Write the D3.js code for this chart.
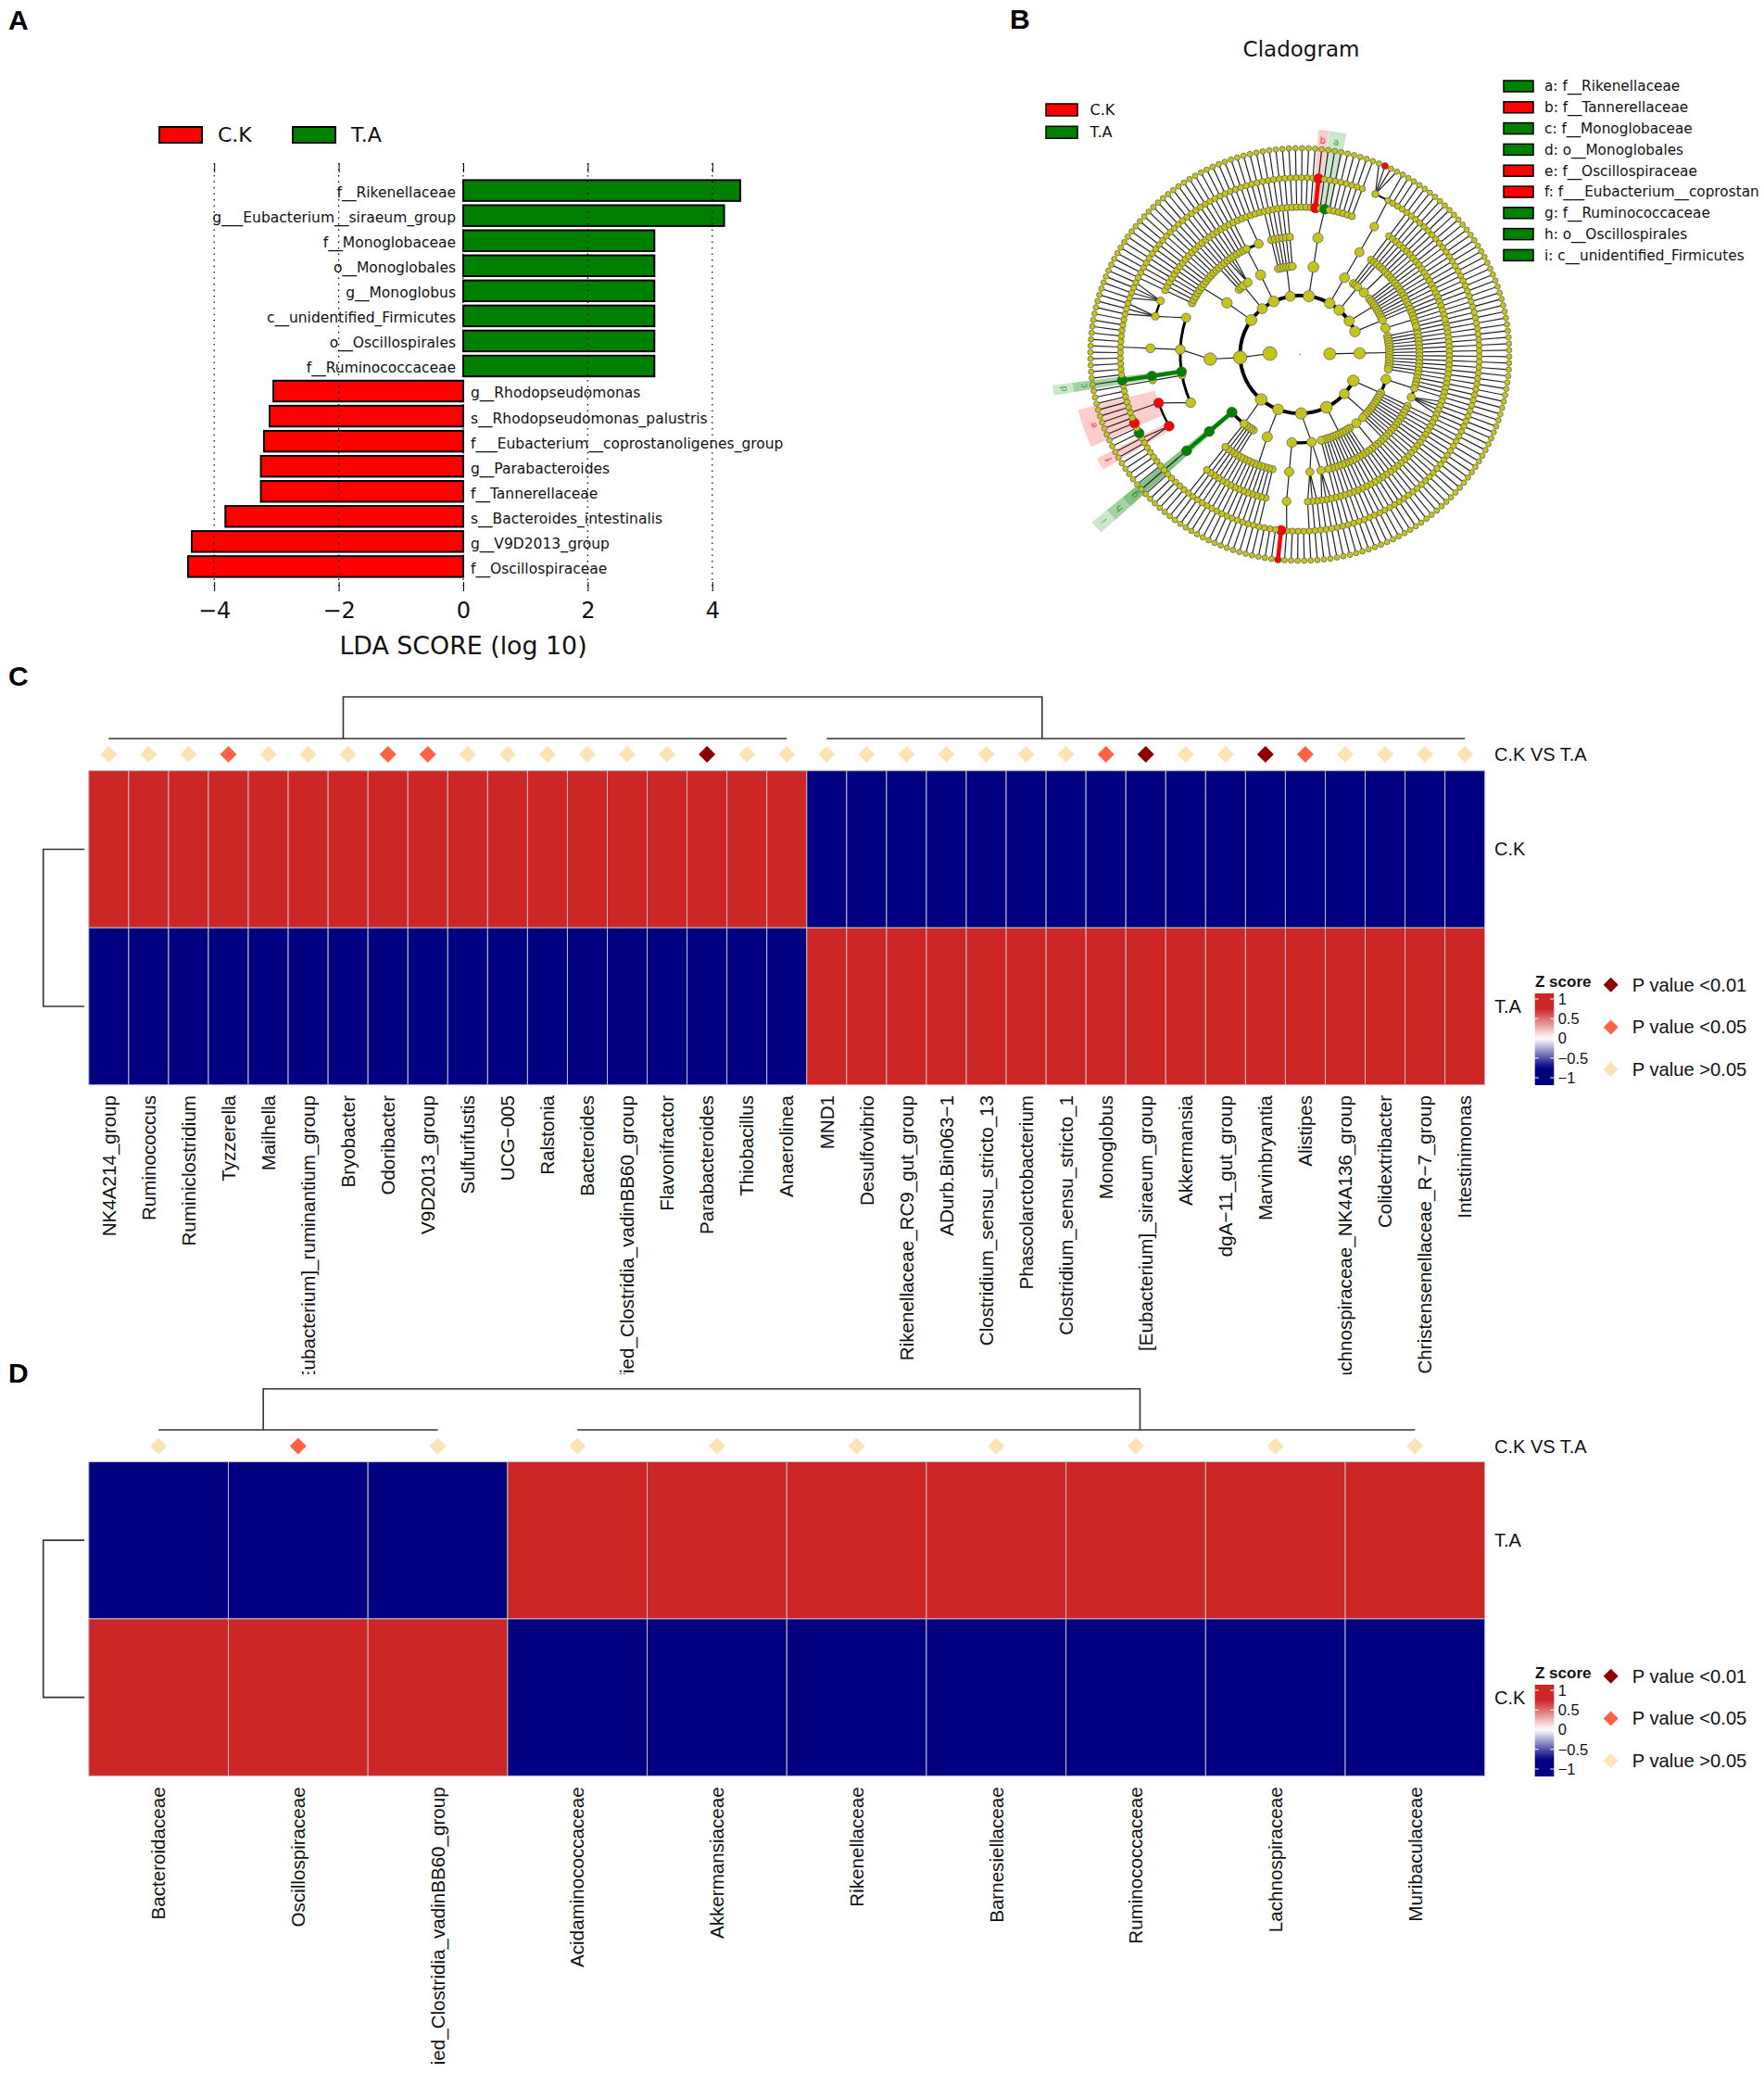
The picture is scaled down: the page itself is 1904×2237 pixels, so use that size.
<!DOCTYPE html>
<html lang="en">
<head>
<meta charset="UTF-8">
<title>LEfSe and heatmaps</title>
<script src="https://d3js.org/d3.v7.min.js"></script>
<style>
  body { margin: 0; background: #fff; }
  .a text, .a .tick text { font-family: "DejaVu Sans", sans-serif; }
  .h text { font-family: "Liberation Sans", Arial, sans-serif; }
  .letter { font-family: "Liberation Sans", Arial, sans-serif; font-weight: bold; font-size: 30px; }
</style>
</head>
<body>
<svg id="chart" width="1904" height="2237"></svg>
<script>
// ---- panel A data
const ldaLabels = ["f__Rikenellaceae", "g___Eubacterium__siraeum_group", "f__Monoglobaceae", "o__Monoglobales",
  "g__Monoglobus", "c__unidentified_Firmicutes", "o__Oscillospirales", "f__Ruminococcaceae",
  "g__Rhodopseudomonas", "s__Rhodopseudomonas_palustris", "f___Eubacterium__coprostanoligenes_group",
  "g__Parabacteroides", "f__Tannerellaceae", "s__Bacteroides_intestinalis", "g__V9D2013_group", "f__Oscillospiraceae"];
const ldaValues = [4.45, 4.19, 3.07, 3.07, 3.07, 3.07, 3.07, 3.07,
  -3.05, -3.11, -3.2, -3.25, -3.25, -3.82, -4.36, -4.42];
const ldaTicks = [-4, -2, 0, 2, 4];
const groups = ["C.K", "T.A"];
const groupColors = ["#ff0000", "#008000"];

// ---- panel B data: taxonomy tree, a number n stands for n unbranched lineages
const fam = (n, k) => ({ n, k });
const archaea = [[13]];
const phyla = [
  [[4, [4]], 7],
  [5],
  [[5], 12],
  [[[3], [3]], [[[4, fam("g__Rhodopseudomonas", [fam("s__Rhodopseudomonas_palustris", [])]), 3]]]],
  [[10]],
  [5, fam("c__unidentified_Firmicutes", [fam("o__Oscillospirales", [fam("f__Ruminococcaceae", [11])])])],
  [[
    [fam("f___Eubacterium__coprostanoligenes_group", [2]),
     fam("f__Oscillospiraceae", [fam("g___Eubacterium__siraeum_group", [1]), 1, fam("g__V9D2013_group", [1]), 6])],
    1,
    fam("o__Monoglobales", [fam("f__Monoglobaceae", [fam("g__Monoglobus", [1])])]),
    [[11]],
    [[3], [4]]
  ]],
  [[12]],
  [3, [3]],
  [[4, [6]]],
  [6],
  [[[5, fam("f__Tannerellaceae", [fam("g__Parabacteroides", [1])]), 1, fam("f__Rikenellaceae", [1]), 6]]],
  [[[[fam("g__Bacteroides", [1, fam("s__Bacteroides_intestinalis", []), 2]), 4]]]],
  [3, [5]],
  [6],
  [4, [5]]
];
const cladeLegend = ["f__Rikenellaceae", "f__Tannerellaceae", "f__Monoglobaceae", "o__Monoglobales", "f__Oscillospiraceae",
  "f___Eubacterium__coprostanoligenes_group", "f__Ruminococcaceae", "o__Oscillospirales", "c__unidentified_Firmicutes"];
const cladeLetters = ["a", "b", "c", "d", "e", "f", "g", "h", "i"];
const shadeHalf = [2.2, 1.3, 1.2, 1.2, 5, 1.6, 1.5, 1.5, 1.5];

// ---- panel C data
const generaC = ["NK4A214_group", "Ruminococcus", "Ruminiclostridium", "Tyzzerella", "Mailhella",
  "[Eubacterium]_ruminantium_group", "Bryobacter", "Odoribacter", "V9D2013_group", "Sulfurifustis", "UCG\u2212005",
  "Ralstonia", "Bacteroides", "unidentified_Clostridia_vadinBB60_group", "Flavonifractor", "Parabacteroides",
  "Thiobacillus", "Anaerolinea", "MND1", "Desulfovibrio", "Rikenellaceae_RC9_gut_group", "ADurb.Bin063\u22121",
  "Clostridium_sensu_stricto_13", "Phascolarctobacterium", "Clostridium_sensu_stricto_1", "Monoglobus",
  "[Eubacterium]_siraeum_group", "Akkermansia", "dgA\u221211_gut_group", "Marvinbryantia", "Alistipes",
  "Lachnospiraceae_NK4A136_group", "Colidextribacter", "Christensenellaceae_R\u22127_group", "Intestinimonas"];
const rowsC = ["C.K", "T.A"];
const zC_CK = [1, 1, 1, 1, 1, 1, 1, 1, 1, 1, 1, 1, 1, 1, 1, 1, 1, 1,
  -1, -1, -1, -1, -1, -1, -1, -1, -1, -1, -1, -1, -1, -1, -1, -1, -1];
const zC_TA = [-1, -1, -1, -1, -1, -1, -1, -1, -1, -1, -1, -1, -1, -1, -1, -1, -1, -1,
  1, 1, 1, 1, 1, 1, 1, 1, 1, 1, 1, 1, 1, 1, 1, 1, 1];
// 0: P>0.05, 1: P<0.05, 2: P<0.01
const sigC = [0, 0, 0, 1, 0, 0, 0, 1, 1, 0, 0, 0, 0, 0, 0, 2, 0, 0,
  0, 0, 0, 0, 0, 0, 0, 1, 2, 0, 0, 2, 1, 0, 0, 0, 0];

// ---- panel D data
const familiesD = ["Bacteroidaceae", "Oscillospiraceae", "ied_Clostridia_vadinBB60_group", "Acidaminococcaceae",
  "Akkermansiaceae", "Rikenellaceae", "Barnesiellaceae", "Ruminococcaceae", "Lachnospiraceae", "Muribaculaceae"];
const rowsD = ["T.A", "C.K"];
const zD_TA = [-1, -1, -1, 1, 1, 1, 1, 1, 1, 1];
const zD_CK = [1, 1, 1, -1, -1, -1, -1, -1, -1, -1];
const sigD = [0, 1, 0, 0, 0, 0, 0, 0, 0, 0];

const sigColors = ["#fce3b6", "#ff6347", "#8b0000"];
const sigLabels = ["P value >0.05", "P value <0.05", "P value <0.01"];
const zTicks = [1, 0.5, 0, -0.5, -1];

const svg = d3.select("#chart");
const letters = [["A", 9, 32], ["B", 1090, 31], ["C", 9, 740], ["D", 9, 1492]];
svg.selectAll(".letter").data(letters).enter().append("text").attr("class", "letter")
  .attr("x", d => d[1]).attr("y", d => d[2]).text(d => d[0]);

// ---------- A: LDA bars
(function () {
  const g = svg.append("g").attr("class", "a");
  const x = d3.scaleLinear().domain([-4, 4]).range([231.2, 768.8]);
  const y = d3.scaleBand().domain(ldaLabels).range([189.8, 627.2]).padding(0.17);

  g.selectAll(".bar").data(ldaLabels).enter().append("rect")
    .attr("x", (d, i) => x(Math.min(0, ldaValues[i])))
    .attr("y", d => y(d))
    .attr("width", (d, i) => Math.abs(x(ldaValues[i]) - x(0)))
    .attr("height", y.bandwidth())
    .attr("fill", (d, i) => ldaValues[i] > 0 ? groupColors[1] : groupColors[0])
    .attr("stroke", "#000").attr("stroke-width", 2);

  g.selectAll(".grid").data(ldaTicks).enter().append("line")
    .attr("x1", d => x(d)).attr("x2", d => x(d)).attr("y1", 176).attr("y2", 638)
    .attr("stroke", "#000").attr("stroke-width", 1.2).attr("stroke-dasharray", "1.5 5");

  g.selectAll(".lab").data(ldaLabels).enter().append("text")
    .attr("x", (d, i) => ldaValues[i] > 0 ? x(0) - 8 : x(0) + 8)
    .attr("y", d => y(d) + y.bandwidth() / 2 + 2)
    .attr("dy", "0.35em")
    .attr("text-anchor", (d, i) => ldaValues[i] > 0 ? "end" : "start")
    .attr("font-size", 15.5).attr("fill", "#111")
    .text(d => d);

  const bottom = g.append("g").attr("transform", "translate(0,638)")
    .call(d3.axisBottom(x).tickValues(ldaTicks).tickSize(-10).tickPadding(12));
  bottom.select(".domain").remove();
  bottom.selectAll("text").attr("font-size", 24).attr("font-family", "DejaVu Sans").attr("fill", "#111");
  const top = g.append("g").attr("transform", "translate(0,176)")
    .call(d3.axisTop(x).tickValues(ldaTicks).tickSize(-10).tickFormat(""));
  top.select(".domain").remove();

  g.append("text").attr("x", x(0)).attr("y", 706).attr("text-anchor", "middle")
    .attr("font-size", 26.8).attr("fill", "#111").text("LDA SCORE (log 10)");

  const lx = [172, 316];
  groups.forEach((name, i) => {
    g.append("rect").attr("x", lx[i]).attr("y", 137).attr("width", 46).attr("height", 17)
      .attr("fill", groupColors[i]).attr("stroke", "#000").attr("stroke-width", 2);
    g.append("text").attr("x", lx[i] + 63).attr("y", 153).attr("font-size", 22).attr("fill", "#111").text(name);
  });
})();

// ---------- B: cladogram
(function () {
  const g = svg.append("g").attr("class", "a");
  g.append("text").attr("x", 1404.5).attr("y", 61).attr("text-anchor", "middle").attr("font-size", 23).attr("fill", "#111").text("Cladogram");

  groups.forEach((name, i) => {
    g.append("rect").attr("x", 1129).attr("y", 112 + i * 24.3).attr("width", 34).attr("height", 13)
      .attr("fill", groupColors[i]).attr("stroke", "#000").attr("stroke-width", 1.5);
    g.append("text").attr("x", 1176.5).attr("y", 124 + i * 24.3).attr("font-size", 16).attr("fill", "#111").text(name);
  });

  const colorOf = name => {
    const i = ldaLabels.indexOf(name);
    return i < 0 ? null : (ldaValues[i] > 0 ? groupColors[1] : groupColors[0]);
  };

  cladeLegend.forEach((name, i) => {
    const ly = 93 + i * 22.8;
    g.append("rect").attr("x", 1623).attr("y", ly - 6).attr("width", 32).attr("height", 12)
      .attr("fill", colorOf(name)).attr("stroke", "#000").attr("stroke-width", 1.5);
    // the figure runs out at the page edge, so only the part that fits is written
    g.append("text").attr("x", 1667).attr("y", ly).attr("dy", "0.35em").attr("font-size", 15.3)
      .attr("fill", "#111").text((cladeLetters[i] + ": " + name).slice(0, 29));
  });

  // spec -> plain tree, numbers become unbranched lineages down to the species ring
  function expand(list, depth) {
    const out = [];
    list.forEach(item => {
      if (typeof item === "number") {
        for (let i = 0; i < item; i++) {
          out.push({ children: depth < 7 ? expand([1], depth + 1) : [] });
        }
      } else if (Array.isArray(item)) {
        out.push({ children: expand(item, depth + 1) });
      } else {
        out.push({ name: item.n, children: expand(item.k, depth + 1) });
      }
    });
    return out;
  }
  const root = d3.hierarchy({ children: [
    { children: expand(archaea, 2) },
    { children: expand(phyla, 2) }
  ] });

  const leaves = root.leaves();
  const leafAngle = d3.scaleLinear().domain([0, leaves.length - 1]).range([78, 78 + (leaves.length - 1) * 1.8]);
  leaves.forEach((d, i) => { d.angle = leafAngle(i); });
  root.eachAfter(d => {
    if (d.children) d.angle = (d.children[0].angle + d.children[d.children.length - 1].angle) / 2;
    d.count = d.leaves().length;
  });

  const ring = d3.scaleLinear().domain([0, 7]).range([0, 226]);
  const rad = a => a * Math.PI / 180;
  const pt = (a, depth) => d3.pointRadial(rad(a), ring(depth));
  const size = d3.scaleSqrt().domain([1, 187]).range([0, 7]);
  const arc = d3.arc();

  const tree = g.append("g").attr("transform", "translate(1403,382.5) scale(1,0.985)");
  const nodes = root.descendants();
  const byName = new Map(nodes.filter(d => d.data.name).map(d => [d.data.name, d]));

  // shaded sectors with the letters
  const labelRing = { 3: 279, 4: 258, 5: 236 };
  const shades = tree.append("g");
  cladeLegend.forEach((name, i) => {
    const d = byName.get(name);
    const r = labelRing[d.depth];
    shades.append("path")
      .attr("d", arc({ innerRadius: ring(d.depth), outerRadius: r + 11,
        startAngle: rad(d.angle - shadeHalf[i]), endAngle: rad(d.angle + shadeHalf[i]) }))
      .attr("fill", colorOf(name)).attr("fill-opacity", 0.2);
    const p = d3.pointRadial(rad(d.angle), r);
    shades.append("text")
      .attr("transform", `translate(${p[0]},${p[1]}) rotate(${d.angle})`)
      .attr("text-anchor", "middle").attr("dy", "0.35em").attr("font-size", 10)
      .attr("fill", colorOf(name)).attr("fill-opacity", 0.75).text(cladeLetters[i]);
  });

  const edges = tree.append("g");
  const coloured = tree.append("g");
  nodes.filter(d => d.children && d.depth > 0).forEach(d => {
    const kids = d.children;
    const span = kids[kids.length - 1].angle - kids[0].angle;
    const pa = pt(d.angle, d.depth);
    if (span >= 6) {
      const cr = ring(d.depth + 1);
      edges.append("path")
        .attr("d", arc({ innerRadius: cr, outerRadius: cr, startAngle: rad(kids[0].angle), endAngle: rad(kids[kids.length - 1].angle) }))
        .attr("fill", "none").attr("stroke", "#000").attr("stroke-width", Math.max(1.6, 4.4 - d.depth * 0.5));
      const near = d3.least(kids, c => Math.abs(c.angle - d.angle));
      const pc = pt(near.angle, near.depth);
      edges.append("line").attr("x1", pa[0]).attr("y1", pa[1]).attr("x2", pc[0]).attr("y2", pc[1])
        .attr("stroke", "#222").attr("stroke-width", 1.2);
    } else {
      kids.forEach(c => {
        const pc = pt(c.angle, c.depth);
        edges.append("line").attr("x1", pa[0]).attr("y1", pa[1]).attr("x2", pc[0]).attr("y2", pc[1])
          .attr("stroke", "#222").attr("stroke-width", 1.2);
      });
    }
    // a single marked child continues the coloured branch
    if (kids.length === 1 && d.data.name && kids[0].data.name && colorOf(d.data.name) && colorOf(kids[0].data.name)) {
      const pc = pt(kids[0].angle, kids[0].depth);
      coloured.append("line").attr("x1", pa[0]).attr("y1", pa[1]).attr("x2", pc[0]).attr("y2", pc[1])
        .attr("stroke", colorOf(d.data.name)).attr("stroke-width", 4.5);
    }
  });

  tree.selectAll(".node").data(nodes.filter(d => d.depth > 0)).enter().append("circle")
    .attr("cx", d => pt(d.angle, d.depth)[0])
    .attr("cy", d => pt(d.angle, d.depth)[1])
    .attr("r", d => {
      const base = Math.min(7.5, 3 + (7 - d.depth) * 0.33 + size(d.count));
      if (!colorOf(d.data.name)) return base;
      return Math.max(d.depth === 7 ? 3.6 : 5.4, base);
    })
    .attr("fill", d => colorOf(d.data.name) || "#c4c41a")
    .attr("stroke", "#555").attr("stroke-width", 0.7);

  tree.append("circle").attr("r", 1).attr("fill", "#999");
})();

// ---------- C, D: heatmaps
const heatColor = d3.scaleLinear().domain([-0.75, 0, 0.75]).range(["#000080", "#ffffff", "#cd2626"]).clamp(true);

function heatmap(o) {
  const g = svg.append("g").attr("class", "h");
  const x = d3.scaleBand().domain(o.cols).range([95.8, 1602.7]);
  const y = d3.scaleBand().domain(o.rows).range(o.yRange);
  const colIndex = d3.scaleLinear().domain([0, o.cols.length - 1]).range([x(o.cols[0]) + x.bandwidth() / 2, x(o.cols[o.cols.length - 1]) + x.bandwidth() / 2]);

  o.rows.forEach((row, r) => {
    g.selectAll(".c" + r).data(o.cols).enter().append("rect")
      .attr("x", d => x(d)).attr("y", y(row))
      .attr("width", x.bandwidth()).attr("height", y.bandwidth())
      .attr("fill", (d, i) => heatColor(o.z[r][i]))
      .attr("stroke", "#c4bcc4").attr("stroke-width", 1);
    g.append("text").attr("x", 1613).attr("y", y(row) + y.bandwidth() / 2).attr("dy", "0.35em")
      .attr("font-size", 20).attr("fill", "#111").text(row);
  });

  // significance strip
  g.selectAll(".sig").data(o.cols).enter().append("path")
    .attr("d", d3.symbol().type(d3.symbolSquare).size(2 * 81))
    .attr("transform", d => `translate(${x(d) + x.bandwidth() / 2},${o.sigY}) rotate(45)`)
    .attr("fill", (d, i) => sigColors[o.sig[i]]);
  g.append("text").attr("x", 1613).attr("y", o.sigY).attr("dy", "0.35em").attr("font-size", 20).attr("fill", "#111").text("C.K VS T.A");

  // column labels, long ones are cut off like the figure
  const clipId = "clip" + o.id;
  svg.append("clipPath").attr("id", clipId).append("rect")
    .attr("x", 0).attr("y", o.labelTop - 4).attr("width", 1904).attr("height", o.labelClip - o.labelTop + 4);
  const labels = g.append("g").attr("clip-path", `url(#${clipId})`);
  labels.selectAll(".collab").data(o.cols).enter().append("text")
    .attr("transform", d => `translate(${x(d) + x.bandwidth() / 2},${o.labelTop}) rotate(-90)`)
    .attr("text-anchor", "end").attr("dy", "0.35em")
    .attr("font-size", 20.6).attr("fill", "#111").text(d => d);

  // dendrograms
  const link = d3.line();
  const den = g.append("g").attr("fill", "none").attr("stroke", "#333").attr("stroke-width", 1.6);
  o.tree.clusters.forEach(c => {
    den.append("path").attr("d", link([[colIndex(c[0]), o.tree.low], [colIndex(c[1]), o.tree.low]]));
  });
  den.append("path").attr("d", link([
    [colIndex(o.tree.joins[0]), o.tree.low], [colIndex(o.tree.joins[0]), o.tree.high],
    [colIndex(o.tree.joins[1]), o.tree.high], [colIndex(o.tree.joins[1]), o.tree.low]]));
  const ry0 = y(o.rows[0]) + y.bandwidth() / 2;
  const ry1 = y(o.rows[1]) + y.bandwidth() / 2;
  den.append("path").attr("d", link([[91, ry0], [46.7, ry0], [46.7, ry1], [91, ry1]]));

  // colour key
  const gradId = "grad" + o.id;
  const zScale = d3.scaleLinear().domain([1, -1]).range([o.keyTop + 6, o.keyTop + 91]);
  const grad = svg.append("linearGradient").attr("id", gradId).attr("x1", 0).attr("x2", 0).attr("y1", 0).attr("y2", 1);
  d3.range(0, 25).forEach(i => {
    const v = zScale.invert(o.keyTop + i * 99 / 24);
    grad.append("stop").attr("offset", i / 24).attr("stop-color", heatColor(v));
  });
  g.append("rect").attr("x", 1656.7).attr("y", o.keyTop).attr("width", 20.6).attr("height", 99).attr("fill", `url(#${gradId})`);
  g.selectAll(".ztick").data(zTicks).enter().append("path")
    .attr("d", d => `M1656.7,${zScale(d)}h4M1673.3,${zScale(d)}h4`)
    .attr("stroke", "#fff").attr("stroke-width", 1.2).attr("fill", "none");
  g.selectAll(".zlab").data(zTicks).enter().append("text")
    .attr("x", 1681.7).attr("y", d => zScale(d)).attr("dy", "0.35em").attr("font-size", 16.5).attr("fill", "#111")
    .text(d => d3.format("")(d).replace("-", "\u2212"));
  g.append("text").attr("x", 1657).attr("y", o.keyTop - 13).attr("dy", "0.35em")
    .attr("font-size", 17).attr("font-weight", "bold").attr("fill", "#111").text("Z score");

  // P value key
  [2, 1, 0].forEach((s, i) => {
    const py = o.keyTop - 9.3 + i * 45.7;
    g.append("path").attr("d", d3.symbol().type(d3.symbolSquare).size(2 * 64))
      .attr("transform", `translate(1738.7,${py}) rotate(45)`).attr("fill", sigColors[s]);
    g.append("text").attr("x", 1761.7).attr("y", py).attr("dy", "0.35em").attr("font-size", 20.2).attr("fill", "#111").text(sigLabels[s]);
  });
}

heatmap({
  id: "C", cols: generaC, rows: rowsC, z: [zC_CK, zC_TA], sig: sigC,
  yRange: [831.7, 1170.7], sigY: 814, labelTop: 1182, labelClip: 1483, keyTop: 1072,
  tree: { low: 797, high: 752, clusters: [[0, 17], [18, 34]], joins: [5.88, 23.4] }
});
heatmap({
  id: "D", cols: familiesD, rows: rowsD, z: [zD_TA, zD_CK], sig: sigD,
  yRange: [1577.4, 1916.4], sigY: 1560.6, labelTop: 1928.3, labelClip: 2237, keyTop: 1818,
  tree: { low: 1543, high: 1498.7, clusters: [[0, 2], [3, 9]], joins: [0.75, 7.03] }
});
</script>
</body>
</html>
